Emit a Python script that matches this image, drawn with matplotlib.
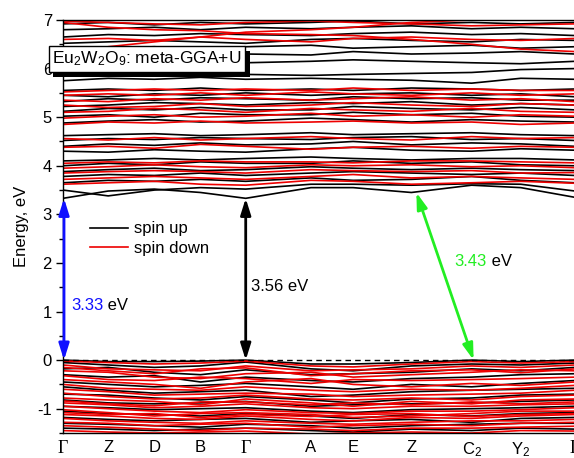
import matplotlib
matplotlib.use("Agg")
import matplotlib.pyplot as plt
from matplotlib.lines import Line2D
from matplotlib import patheffects

plt.rcParams['font.family'] = ['Liberation Sans', 'DejaVu Sans']
plt.rcParams['mathtext.default'] = 'regular'
plt.rcParams['axes.unicode_minus'] = False

# high-symmetry path
kpos = [0.00, 0.45, 0.91, 1.37, 1.82, 2.47, 2.89, 3.47, 4.07, 4.56, 5.10]
klabels = ['Γ', 'Z', 'D', 'B', 'Γ', 'A', 'E', 'Z', 'C$_2$', 'Y$_2$', 'Γ']

# spin-up bands (energies in eV at each k-point)
up_valence = [
    [0.00, -0.03, -0.03, -0.02, 0.00, -0.08, -0.08, -0.05, 0.00, -0.03, 0.00],
    [-0.05, -0.10, -0.15, -0.12, -0.04, -0.18, -0.22, -0.12, -0.08, -0.10, -0.06],
    [-0.18, -0.15, -0.25, -0.30, -0.20, -0.30, -0.28, -0.25, -0.18, -0.22, -0.15],
    [-0.30, -0.35, -0.32, -0.45, -0.35, -0.42, -0.45, -0.38, -0.35, -0.30, -0.28],
    [-0.45, -0.50, -0.55, -0.52, -0.48, -0.55, -0.60, -0.50, -0.55, -0.48, -0.42],
    [-0.55, -0.62, -0.68, -0.65, -0.62, -0.75, -0.72, -0.65, -0.62, -0.60, -0.58],
    [-0.70, -0.72, -0.78, -0.82, -0.75, -0.82, -0.88, -0.80, -0.78, -0.72, -0.70],
    [-0.82, -0.88, -0.90, -0.88, -0.85, -0.95, -0.92, -0.90, -0.88, -0.85, -0.82],
    [-0.95, -0.98, -1.02, -1.00, -0.98, -1.05, -1.08, -1.02, -1.00, -0.98, -0.95],
    [-1.05, -1.10, -1.12, -1.15, -1.10, -1.15, -1.20, -1.12, -1.15, -1.10, -1.08],
    [-1.18, -1.22, -1.25, -1.22, -1.20, -1.28, -1.25, -1.22, -1.28, -1.20, -1.18],
    [-1.30, -1.32, -1.35, -1.38, -1.32, -1.35, -1.40, -1.35, -1.32, -1.30, -1.30],
    [-1.40, -1.42, -1.45, -1.42, -1.40, -1.45, -1.48, -1.42, -1.45, -1.40, -1.42],
]
up_conduction = [
    [3.33, 3.48, 3.52, 3.45, 3.33, 3.55, 3.55, 3.45, 3.60, 3.55, 3.35],
    [3.50, 3.38, 3.50, 3.55, 3.52, 3.62, 3.62, 3.60, 3.63, 3.62, 3.48],
    [3.65, 3.70, 3.68, 3.72, 3.68, 3.75, 3.70, 3.72, 3.78, 3.70, 3.65],
    [3.78, 3.82, 3.80, 3.85, 3.80, 3.85, 3.88, 3.85, 3.82, 3.85, 3.80],
    [3.88, 3.92, 3.95, 3.90, 3.92, 3.98, 3.95, 3.92, 3.95, 3.92, 3.90],
    [4.00, 4.05, 4.02, 4.08, 4.05, 4.05, 4.10, 4.05, 4.08, 4.02, 4.00],
    [4.10, 4.12, 4.15, 4.12, 4.15, 4.18, 4.15, 4.12, 4.15, 4.15, 4.12],
    [4.30, 4.28, 4.33, 4.30, 4.28, 4.35, 4.38, 4.32, 4.30, 4.35, 4.32],
    [4.40, 4.45, 4.42, 4.47, 4.43, 4.45, 4.50, 4.43, 4.47, 4.45, 4.40],
    [4.52, 4.56, 4.54, 4.58, 4.56, 4.54, 4.58, 4.60, 4.54, 4.56, 4.52],
    [4.62, 4.64, 4.66, 4.62, 4.64, 4.68, 4.64, 4.66, 4.68, 4.64, 4.62],
    [4.88, 4.92, 4.95, 4.90, 4.92, 4.98, 4.95, 4.90, 4.95, 4.92, 4.90],
    [5.02, 5.05, 5.00, 5.08, 5.05, 5.05, 5.10, 5.05, 5.08, 5.02, 5.00],
    [5.12, 5.18, 5.15, 5.20, 5.15, 5.15, 5.22, 5.18, 5.15, 5.20, 5.15],
    [5.22, 5.25, 5.30, 5.28, 5.25, 5.30, 5.28, 5.32, 5.25, 5.28, 5.25],
    [5.32, 5.38, 5.35, 5.40, 5.38, 5.35, 5.42, 5.38, 5.40, 5.35, 5.35],
    [5.45, 5.42, 5.48, 5.45, 5.50, 5.45, 5.48, 5.50, 5.45, 5.48, 5.42],
    [5.55, 5.58, 5.55, 5.60, 5.55, 5.58, 5.55, 5.60, 5.58, 5.55, 5.58],
    [5.75, 5.80, 5.78, 5.82, 5.78, 5.80, 5.78, 5.76, 5.70, 5.80, 5.78],
    [5.92, 5.88, 5.95, 5.90, 5.88, 5.86, 5.88, 5.90, 5.92, 5.98, 6.00],
    [6.10, 6.15, 6.12, 6.08, 6.12, 6.15, 6.18, 6.15, 6.12, 6.10, 6.15],
    [6.25, 6.30, 6.28, 6.32, 6.30, 6.28, 6.35, 6.30, 6.32, 6.35, 6.30],
    [6.40, 6.42, 6.45, 6.40, 6.45, 6.48, 6.42, 6.45, 6.48, 6.42, 6.45],
    [6.52, 6.55, 6.58, 6.55, 6.52, 6.60, 6.62, 6.58, 6.55, 6.60, 6.58],
    [6.65, 6.70, 6.68, 6.72, 6.70, 6.68, 6.72, 6.75, 6.70, 6.72, 6.68],
    [6.80, 6.82, 6.85, 6.80, 6.85, 6.82, 6.85, 6.88, 6.82, 6.85, 6.82],
    [6.92, 6.95, 6.90, 6.95, 6.92, 6.95, 6.98, 6.92, 6.95, 6.92, 6.95],
]

# spin-down bands
down_valence = [
    [-0.02, -0.05, -0.08, -0.06, -0.02, -0.12, -0.14, -0.08, -0.03, -0.06, -0.03],
    [-0.10, -0.18, -0.20, -0.22, -0.12, -0.22, -0.20, -0.18, -0.12, -0.15, -0.10],
    [-0.15, -0.22, -0.28, -0.18, -0.16, -0.32, -0.28, -0.22, -0.20, -0.26, -0.18],
    [-0.22, -0.25, -0.35, -0.38, -0.28, -0.25, -0.35, -0.30, -0.25, -0.20, -0.22],
    [-0.32, -0.40, -0.42, -0.35, -0.38, -0.48, -0.40, -0.42, -0.40, -0.38, -0.35],
    [-0.40, -0.45, -0.50, -0.58, -0.45, -0.38, -0.50, -0.55, -0.48, -0.52, -0.45],
    [-0.50, -0.58, -0.60, -0.62, -0.55, -0.62, -0.65, -0.60, -0.62, -0.58, -0.52],
    [-0.60, -0.65, -0.72, -0.70, -0.68, -0.70, -0.75, -0.72, -0.70, -0.68, -0.62],
    [-0.68, -0.75, -0.80, -0.78, -0.72, -0.80, -0.82, -0.78, -0.82, -0.75, -0.72],
    [-0.78, -0.82, -0.85, -0.92, -0.80, -0.88, -0.95, -0.85, -0.90, -0.82, -0.80],
    [-0.84, -0.90, -0.94, -0.86, -0.86, -0.92, -0.88, -0.92, -0.86, -0.90, -0.86],
    [-0.88, -0.92, -0.98, -0.95, -0.90, -0.98, -1.00, -0.95, -0.95, -0.92, -0.90],
    [-0.95, -1.00, -1.05, -1.08, -1.02, -1.08, -1.10, -1.05, -1.05, -1.02, -0.98],
    [-1.02, -1.08, -1.15, -1.10, -1.08, -1.12, -1.18, -1.15, -1.10, -1.05, -1.05],
    [-1.08, -1.12, -1.10, -1.18, -1.12, -1.16, -1.12, -1.10, -1.16, -1.12, -1.10],
    [-1.12, -1.15, -1.20, -1.22, -1.15, -1.22, -1.25, -1.18, -1.20, -1.15, -1.12],
    [-1.20, -1.25, -1.28, -1.30, -1.25, -1.30, -1.32, -1.28, -1.25, -1.25, -1.22],
    [-1.28, -1.30, -1.35, -1.32, -1.30, -1.38, -1.35, -1.32, -1.35, -1.30, -1.28],
    [-1.35, -1.38, -1.42, -1.45, -1.40, -1.42, -1.45, -1.40, -1.40, -1.38, -1.36],
    [-1.45, -1.48, -1.50, -1.48, -1.46, -1.52, -1.50, -1.48, -1.50, -1.45, -1.46],
]
down_conduction = [
    [3.62, 3.65, 3.68, 3.62, 3.60, 3.70, 3.68, 3.62, 3.65, 3.68, 3.64],
    [3.72, 3.75, 3.78, 3.75, 3.72, 3.78, 3.82, 3.75, 3.78, 3.75, 3.72],
    [3.85, 3.88, 3.90, 3.88, 3.85, 3.92, 3.90, 3.88, 3.90, 3.85, 3.86],
    [3.95, 3.98, 4.02, 3.98, 3.96, 4.02, 4.00, 4.02, 3.98, 4.00, 3.96],
    [4.05, 4.08, 4.06, 4.10, 4.08, 4.08, 4.06, 4.10, 4.10, 4.08, 4.06],
    [4.38, 4.40, 4.36, 4.44, 4.40, 4.34, 4.38, 4.40, 4.36, 4.40, 4.38],
    [4.56, 4.53, 4.58, 4.53, 4.56, 4.60, 4.56, 4.53, 4.60, 4.56, 4.58],
    [4.85, 4.90, 4.88, 4.92, 4.88, 4.90, 4.92, 4.88, 4.90, 4.85, 4.88],
    [4.98, 5.02, 5.05, 5.00, 5.02, 5.08, 5.02, 5.05, 5.00, 5.05, 5.02],
    [5.10, 5.12, 5.18, 5.15, 5.10, 5.18, 5.15, 5.12, 5.18, 5.12, 5.10],
    [5.25, 5.20, 5.22, 5.28, 5.22, 5.25, 5.30, 5.25, 5.22, 5.28, 5.25],
    [5.35, 5.32, 5.38, 5.35, 5.40, 5.35, 5.38, 5.42, 5.35, 5.38, 5.32],
    [5.45, 5.48, 5.45, 5.50, 5.45, 5.52, 5.48, 5.45, 5.50, 5.45, 5.48],
    [5.52, 5.55, 5.58, 5.55, 5.58, 5.55, 5.60, 5.55, 5.58, 5.55, 5.55],
    [6.30, 6.45, 6.55, 6.65, 6.75, 6.80, 6.85, 6.95, 7.00, 7.05, 7.10],
    [6.95, 6.85, 6.80, 6.78, 6.72, 6.70, 6.68, 6.60, 6.50, 6.40, 6.35],
    [6.98, 6.95, 6.92, 6.90, 6.95, 6.98, 6.95, 6.92, 6.88, 6.90, 6.92],
    [6.60, 6.62, 6.58, 6.65, 6.60, 6.55, 6.62, 6.65, 6.60, 6.58, 6.62],
]

# band gap annotations: (k_start, E_start, k_end, E_end)
gap_direct_G0 = (0.01, 0.0, 0.01, 3.33)
gap_direct_G1 = (1.82, 0.0, 1.82, 3.33)
gap_indirect = (4.09, 0.0, 3.52, 3.45)
gap_values = ['3.33', '3.56', '3.43']

fig = plt.figure(figsize=(5.74, 4.58), dpi=100)
ax = fig.add_axes([63 / 574, 25 / 458, 512 / 574, 413 / 458])

for b in up_valence + up_conduction:
    ax.plot(kpos, b, color='black', lw=1.2, solid_joinstyle='round')
for b in down_valence + down_conduction:
    ax.plot(kpos, b, color='#ee0000', lw=1.2, solid_joinstyle='round')

ax.axhline(0, color='black', lw=1.0, ls=(0, (4, 3)), zorder=3)

ax.set_xlim(kpos[0], kpos[-1])
ax.set_ylim(-1.5, 7)
ax.set_xticks(kpos)
ax.set_xticklabels(klabels, fontsize=12)
for lbl in ax.get_xticklabels():
    if lbl.get_text() == 'Γ':
        lbl.set_family('Liberation Serif')
        lbl.set_fontsize(13)
ax.tick_params(axis='x', length=0, pad=5)
ax.set_yticks(range(-1, 8))
ax.set_yticks([v / 2 for v in range(-3, 14)], minor=True)
ax.tick_params(axis='y', which='major', direction='out', length=5, width=1, labelsize=12, pad=3)
ax.tick_params(axis='y', which='minor', direction='out', length=3, width=1)
ax.set_ylabel('Energy, eV', fontsize=12, labelpad=6)
for s in ax.spines.values():
    s.set_linewidth(1.0)

arrow_kw = dict(arrowstyle='<|-|>,head_length=0.7,head_width=0.22', lw=2,
                shrinkA=0, shrinkB=0, mutation_scale=14)
ax.annotate('', xy=gap_direct_G0[:2], xytext=gap_direct_G0[2:],
            arrowprops=dict(color='#1010ff', **arrow_kw), annotation_clip=False, zorder=5)
ax.annotate('', xy=gap_direct_G1[:2], xytext=gap_direct_G1[2:],
            arrowprops=dict(color='black', **arrow_kw), zorder=5)
ax.annotate('', xy=gap_indirect[:2], xytext=gap_indirect[2:],
            arrowprops=dict(color='#22ee22', **arrow_kw), zorder=5)

t1 = ax.text(0.08, 1.12, gap_values[0], color='#1010ff', fontsize=12, va='center', ha='left')
ax.annotate(' eV', xy=(1, 0.5), xycoords=t1, va='center', ha='left', fontsize=12)
ax.text(1.87, 1.52, gap_values[1] + ' eV', color='black', fontsize=12, va='center', ha='left')
t3 = ax.text(3.90, 2.03, gap_values[2], color='#22ee22', fontsize=12, va='center', ha='left')
ax.annotate(' eV', xy=(1, 0.5), xycoords=t3, va='center', ha='left', fontsize=12)

handles = [Line2D([], [], color='black', lw=1.2), Line2D([], [], color='#ee0000', lw=1.2)]
ax.legend(handles, ['spin up', 'spin down'], loc='center left',
          bbox_to_anchor=(27 / 512, 0.471), frameon=False, fontsize=12,
          handlelength=2.3, handletextpad=0.35, borderpad=0, borderaxespad=0,
          labelspacing=0.25)

title = 'Eu$_2$W$_2$O$_9$: meta-GGA+U'
tt = fig.text(147 / 574, 1 - 59 / 458, title, fontsize=12.5, ha='center', va='center',
              bbox=dict(boxstyle='square,pad=0.22', fc='white', ec='black', lw=1), zorder=10)
tt.get_bbox_patch().set_path_effects([
    patheffects.SimplePatchShadow(offset=(3.5, -3.5), shadow_rgbFace='black', alpha=1.0),
    patheffects.Normal()])

fig.savefig('out.png', dpi=100)
